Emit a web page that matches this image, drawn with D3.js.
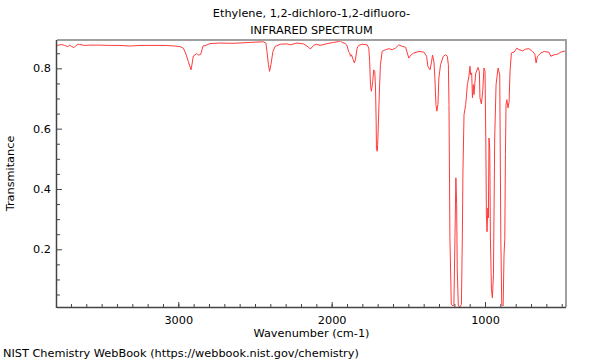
<!DOCTYPE html>
<html>
<head>
<meta charset="utf-8">
<script src="https://cdn.jsdelivr.net/npm/d3@7"></script>
<style>
  html, body { margin: 0; padding: 0; background: #fff; }
  text { font-family: "DejaVu Sans", sans-serif; fill: #000; }
</style>
</head>
<body>
<svg id="chart" width="600" height="360"></svg>
<script>
const titleLines = ["Ethylene, 1,2-dichloro-1,2-difluoro-", "INFRARED SPECTRUM"];
const xLabel = "Wavenumber (cm-1)";
const yLabel = "Transmitance";
const footer = "NIST Chemistry WebBook (https://webbook.nist.gov/chemistry)";

const xTicks = [3000, 2000, 1000];
const yTicks = [0.2, 0.4, 0.6, 0.8];

const wavenumber = [3791,3760,3741,3721,3708,3695,3682,3669,3656,3643,3610,3577,3512,3446,3381,3316,3250,3185,3087,3022,
2989,2967,2950,2935,2917,2909,2902,2880,2869,2854,2839,2826,2793,2727,2643,2531,2446,2429,2422,2412,
2405,2396,2383,2368,2335,2292,2270,2226,2183,2150,2139,2118,2100,2074,2030,1987,1954,1943,1932,1910,
1899,1889,1882,1878,1871,1860,1852,1845,1834,1824,1801,1769,1758,1752,1747,1741,1732,1726,1719,1714,
1710,1708,1703,1700,1695,1688,1682,1671,1649,1627,1605,1584,1562,1540,1518,1507,1497,1486,1464,1431,
1399,1381,1373,1359,1350,1342,1333,1327,1320,1314,1307,1301,1290,1272,1257,1246,1239,1235,1229,1220,
1209,1203,1196,1190,1185,1181,1174,1163,1154,1148,1144,1137,1126,1115,1105,1098,1094,1087,1082,1076,
1072,1061,1046,1037,1033,1024,1015,1007,1000,995,991,987,982,978,974,969,965,958,952,945,
937,928,915,904,897,891,882,876,871,867,863,858,850,843,837,828,810,793,778,756,
734,713,690,675,667,658,636,614,582,571,549,527,505,473];

const transmittance = [0.876,0.879,0.876,0.872,0.877,0.872,0.869,0.874,0.880,0.879,0.876,0.877,0.877,0.876,0.876,0.874,0.876,0.876,0.876,0.874,
0.872,0.867,0.847,0.823,0.795,0.818,0.841,0.849,0.844,0.846,0.874,0.875,0.882,0.884,0.883,0.886,0.888,0.884,0.856,0.812,
0.790,0.812,0.856,0.873,0.880,0.881,0.878,0.884,0.881,0.870,0.864,0.876,0.880,0.876,0.882,0.886,0.889,0.891,0.886,0.882,
0.874,0.854,0.851,0.840,0.845,0.829,0.818,0.829,0.867,0.876,0.880,0.878,0.867,0.823,0.746,0.724,0.757,0.795,0.790,0.735,
0.625,0.536,0.525,0.547,0.625,0.735,0.812,0.856,0.862,0.865,0.862,0.867,0.878,0.873,0.870,0.851,0.834,0.843,0.851,0.856,
0.854,0.840,0.807,0.795,0.818,0.844,0.821,0.768,0.680,0.658,0.680,0.768,0.812,0.840,0.845,0.840,0.812,0.680,0.238,0.017,
0.012,0.017,0.238,0.437,0.348,0.128,0.012,0.009,0.017,0.238,0.459,0.646,0.680,0.746,0.774,0.807,0.779,0.785,0.702,0.746,
0.713,0.783,0.803,0.790,0.702,0.682,0.724,0.801,0.790,0.569,0.311,0.258,0.337,0.304,0.569,0.529,0.238,0.066,0.039,0.116,
0.569,0.746,0.801,0.778,0.238,0.017,0.012,0.183,0.236,0.514,0.680,0.696,0.669,0.689,0.790,0.851,0.854,0.867,0.862,0.858,
0.864,0.865,0.856,0.847,0.818,0.840,0.851,0.856,0.853,0.840,0.845,0.847,0.854,0.858];

const W = 600, H = 360;
const m = {left: 57, right: 34, top: 40, bottom: 53};
const x0 = m.left, x1 = W - m.right, y0 = m.top, y1 = H - m.bottom;
const FS = 11.3;

const svg = d3.select("#chart");
const x = d3.scaleLinear().domain([3791, 472]).range([x0, x1]);
const y = d3.scaleLinear().domain([0.0086, 0.894]).range([y1, y0]);

const data = wavenumber.map((w, i) => ({w, t: transmittance[i]}));

svg.append("clipPath").attr("id", "clip").append("rect")
  .attr("x", x0).attr("y", y0).attr("width", x1 - x0).attr("height", y1 - y0);

svg.append("path").datum(data)
  .attr("clip-path", "url(#clip)")
  .attr("fill", "none")
  .attr("stroke", "#ff3b3b")
  .attr("stroke-width", 1)
  .attr("stroke-linejoin", "round")
  .attr("d", d3.line().x(d => x(d.w)).y(d => y(d.t)));

// frame top/right
svg.append("line").attr("x1", x0).attr("x2", x1 + 1).attr("y1", y0).attr("y2", y0)
  .attr("stroke", "#a0a0a0").attr("stroke-width", 2);
svg.append("line").attr("x1", x1).attr("x2", x1).attr("y1", y0).attr("y2", y1)
  .attr("stroke", "#a0a0a0").attr("stroke-width", 2);

// x axis
const xMinor = d3.range(3700, 472, -100);
const gx = svg.append("g").attr("transform", `translate(0,${y1})`);
gx.call(d3.axisBottom(x).tickValues(xMinor).tickSize(-3).tickFormat(""))
  .call(g => g.select(".domain").remove());
gx.append("g").call(d3.axisBottom(x).tickValues(xTicks).tickSize(-5).tickPadding(9).tickFormat(d3.format("d")))
  .call(g => g.select(".domain").remove());
gx.selectAll("line").attr("stroke", "#444");
gx.selectAll("text").attr("font-size", FS).attr("font-family", "DejaVu Sans");
svg.append("line").attr("x1", x0).attr("x2", x1).attr("y1", y1 + 0.5).attr("y2", y1 + 0.5)
  .attr("stroke", "#444").attr("stroke-width", 1.5);

// y axis
const yMinor = d3.range(0.05, 0.89, 0.05).filter(v => Math.abs(v * 5 - Math.round(v * 5)) > 1e-6);
const gy = svg.append("g").attr("transform", `translate(${x0},0)`);
gy.call(d3.axisLeft(y).tickValues(yMinor).tickSize(-3).tickFormat(""))
  .call(g => g.select(".domain").remove());
gy.append("g").call(d3.axisLeft(y).tickValues(yTicks).tickSize(-5).tickPadding(6).tickFormat(d3.format(".1f")))
  .call(g => g.select(".domain").remove());
gy.selectAll("line").attr("stroke", "#444");
gy.selectAll("text").attr("font-size", FS).attr("font-family", "DejaVu Sans");
svg.append("line").attr("x1", x0 - 0.5).attr("x2", x0 - 0.5).attr("y1", y0).attr("y2", y1 + 1)
  .attr("stroke", "#444").attr("stroke-width", 1.5);

// titles
const cx = (x0 + x1) / 2;
svg.append("text").attr("x", cx).attr("y", 17).attr("text-anchor", "middle").attr("font-size", FS).text(titleLines[0]);
svg.append("text").attr("x", cx).attr("y", 34).attr("text-anchor", "middle").attr("font-size", FS).text(titleLines[1]);
svg.append("text").attr("x", cx).attr("y", 337).attr("text-anchor", "middle").attr("font-size", FS).text(xLabel);
svg.append("text").attr("transform", `translate(14,${(y0 + y1) / 2}) rotate(-90)`)
  .attr("text-anchor", "middle").attr("font-size", FS).text(yLabel);
svg.append("text").attr("x", 3).attr("y", 357).attr("font-size", FS).text(footer);
</script>
</body>
</html>
